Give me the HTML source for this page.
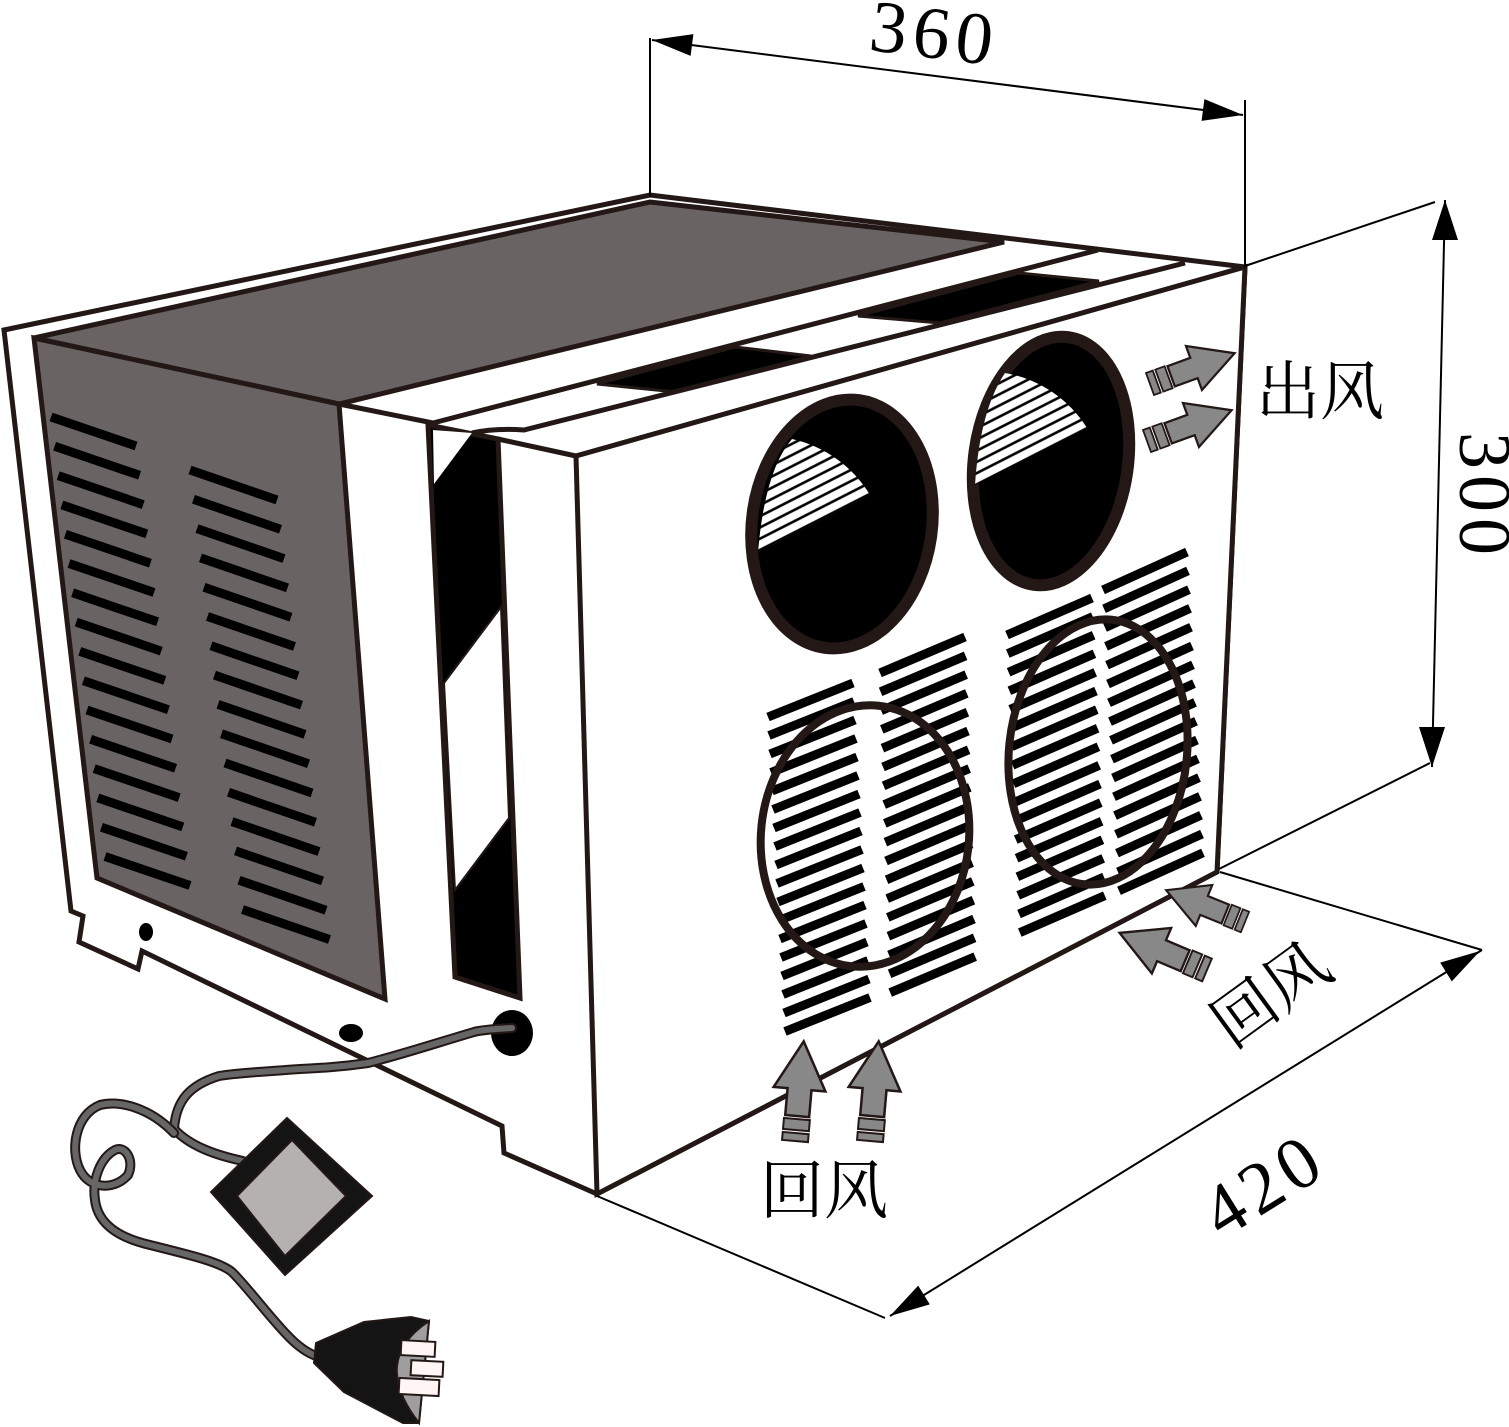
<!DOCTYPE html>
<html><head><meta charset="utf-8"><style>html,body{margin:0;padding:0;background:#fff}svg{display:block}</style></head>
<body>
<svg width="1509" height="1427" viewBox="0 0 1509 1427" xmlns="http://www.w3.org/2000/svg">
<defs>
<pattern id="h" width="10" height="10" patternUnits="userSpaceOnUse" patternTransform="rotate(-27)">
<rect width="10" height="10" fill="#fff"/><line x1="0" y1="5" x2="10" y2="5" stroke="#000" stroke-width="2.6"/></pattern>
<g id="arr">
<polygon points="0,-13 8,-13 8,13 0,13" fill="#888" stroke="#231815" stroke-width="2"/>
<polygon points="11,-13 22,-13 22,13 11,13" fill="#888" stroke="#231815" stroke-width="2"/>
<polygon points="25,-12 52,-12 52,-26 100,0 52,26 52,12 25,12" fill="#888" stroke="#231815" stroke-width="2.5"/>
</g>
<line id="sa" x1="51" y1="417" x2="136" y2="446" stroke="#000" stroke-width="9"/>
<line id="sb" x1="190" y1="470" x2="277" y2="500" stroke="#000" stroke-width="9"/>
<line id="s1" x1="768" y1="717" x2="853" y2="683" stroke="#000" stroke-width="9"/>
<line id="s2" x1="880" y1="673" x2="965" y2="637" stroke="#000" stroke-width="9"/>
<line id="s3" x1="1007" y1="635" x2="1092" y2="598" stroke="#000" stroke-width="9"/>
<line id="s4" x1="1103" y1="590" x2="1187" y2="552" stroke="#000" stroke-width="9"/>
</defs>
<g stroke-linejoin="miter">
<!-- outer frame -->
<polygon points="4,330 650,195 1245,267 1217,872 597,1194 504,1153 502,1126 142,951 138,969 79,942 83,916 71,911" fill="#fff" stroke="#231815" stroke-width="5"/>
<!-- gray top -->
<polygon points="34,338 650,202 1004,242 339,404" fill="#696463" stroke="#231815" stroke-width="5"/>
<!-- gray side -->
<polygon points="34,338 339,404 385,999 97,878" fill="#696463" stroke="#231815" stroke-width="5"/>
<!-- left side slats -->
<g>
<use href="#sa"/><use href="#sa" transform="translate(3.6,29.3)"/><use href="#sa" transform="translate(7.2,58.6)"/><use href="#sa" transform="translate(10.8,87.9)"/><use href="#sa" transform="translate(14.4,117.2)"/><use href="#sa" transform="translate(18,146.5)"/><use href="#sa" transform="translate(21.6,175.8)"/><use href="#sa" transform="translate(25.2,205.1)"/><use href="#sa" transform="translate(28.8,234.4)"/><use href="#sa" transform="translate(32.4,263.7)"/><use href="#sa" transform="translate(36,293)"/><use href="#sa" transform="translate(39.6,322.3)"/><use href="#sa" transform="translate(43.2,351.6)"/><use href="#sa" transform="translate(46.8,380.9)"/><use href="#sa" transform="translate(50.4,410.2)"/><use href="#sa" transform="translate(54,439.5)"/>
<use href="#sb"/><use href="#sb" transform="translate(3.5,29.3)"/><use href="#sb" transform="translate(7,58.6)"/><use href="#sb" transform="translate(10.5,87.9)"/><use href="#sb" transform="translate(14,117.2)"/><use href="#sb" transform="translate(17.5,146.5)"/><use href="#sb" transform="translate(21,175.8)"/><use href="#sb" transform="translate(24.5,205.1)"/><use href="#sb" transform="translate(28,234.4)"/><use href="#sb" transform="translate(31.5,263.7)"/><use href="#sb" transform="translate(35,293)"/><use href="#sb" transform="translate(38.5,322.3)"/><use href="#sb" transform="translate(42,351.6)"/><use href="#sb" transform="translate(45.5,380.9)"/><use href="#sb" transform="translate(49,410.2)"/><use href="#sb" transform="translate(52.5,439.5)"/>
</g>
<!-- top strips -->
<polygon points="597,384 735,347 811,356 676,392" fill="#000" stroke="#231815" stroke-width="3"/>
<polygon points="858,316 1019,273 1099,281 940,323" fill="#000" stroke="#231815" stroke-width="3"/>
<line x1="339" y1="404" x2="433" y2="423" stroke="#231815" stroke-width="5"/>
<line x1="433" y1="423" x2="1098" y2="250" stroke="#231815" stroke-width="5"/>
<path d="M472,433 Q495,428 524,430 L1185,263" fill="none" stroke="#231815" stroke-width="5"/>
<line x1="498" y1="439" x2="576" y2="456" stroke="#231815" stroke-width="5"/>
<line x1="576" y1="456" x2="1245" y2="267" stroke="#231815" stroke-width="5"/>
<!-- black vertical strip -->
<polygon points="428,425 498,439 520,998 455,977" fill="#000" stroke="#231815" stroke-width="5"/>
<polygon points="433,430 472,433 434,484" fill="#fff"/>
<polygon points="501,607 509,818 455,890 444,683" fill="#fff" stroke="#231815" stroke-width="2"/>
<!-- front face -->
<polygon points="576,456 1245,267 1217,872 597,1194" fill="#fff" stroke="#231815" stroke-width="5"/>
<!-- outlet ellipses -->
<ellipse cx="842" cy="524" rx="90" ry="125" transform="rotate(8 842 524)" fill="#000" stroke="#231815" stroke-width="12"/>
<ellipse cx="1051" cy="461" rx="77" ry="125" transform="rotate(8 1051 461)" fill="#000" stroke="#231815" stroke-width="12"/>
<path d="M758,552 L870,495 A122,122 0 0 0 792,439 Q765,470 758,552 Z" fill="url(#h)"/>
<path d="M975,485 L1087,428 A121,121 0 0 0 1005,373 Q980,410 975,485 Z" fill="url(#h)"/>
<!-- grille slats -->
<g>
<use href="#s1"/><use href="#s1" transform="translate(1,18.5)"/><use href="#s1" transform="translate(2,37)"/><use href="#s1" transform="translate(3,55.5)"/><use href="#s1" transform="translate(4,74)"/><use href="#s1" transform="translate(5,92.5)"/><use href="#s1" transform="translate(6,111)"/><use href="#s1" transform="translate(7,129.5)"/><use href="#s1" transform="translate(8,148)"/><use href="#s1" transform="translate(9,166.5)"/><use href="#s1" transform="translate(10,185)"/><use href="#s1" transform="translate(11,203.5)"/><use href="#s1" transform="translate(12,222)"/><use href="#s1" transform="translate(13,240.5)"/><use href="#s1" transform="translate(14,259)"/><use href="#s1" transform="translate(15,277.5)"/><use href="#s1" transform="translate(16,296)"/><use href="#s1" transform="translate(17,314.5)"/>
<use href="#s2"/><use href="#s2" transform="translate(0.6,18.8)"/><use href="#s2" transform="translate(1.2,37.6)"/><use href="#s2" transform="translate(1.8,56.4)"/><use href="#s2" transform="translate(2.4,75.2)"/><use href="#s2" transform="translate(3,94)"/><use href="#s2" transform="translate(3.6,112.8)"/><use href="#s2" transform="translate(4.2,131.6)"/><use href="#s2" transform="translate(4.8,150.4)"/><use href="#s2" transform="translate(5.4,169.2)"/><use href="#s2" transform="translate(6,188)"/><use href="#s2" transform="translate(6.6,206.8)"/><use href="#s2" transform="translate(7.2,225.6)"/><use href="#s2" transform="translate(7.8,244.4)"/><use href="#s2" transform="translate(8.4,263.2)"/><use href="#s2" transform="translate(9,282)"/><use href="#s2" transform="translate(9.6,300.8)"/><use href="#s2" transform="translate(10.2,319.6)"/>
<use href="#s3"/><use href="#s3" transform="translate(0.8,18.6)"/><use href="#s3" transform="translate(1.6,37.2)"/><use href="#s3" transform="translate(2.4,55.8)"/><use href="#s3" transform="translate(3.2,74.4)"/><use href="#s3" transform="translate(4,93)"/><use href="#s3" transform="translate(4.8,111.6)"/><use href="#s3" transform="translate(5.6,130.2)"/><use href="#s3" transform="translate(6.4,148.8)"/><use href="#s3" transform="translate(7.2,167.4)"/><use href="#s3" transform="translate(8,186)"/><use href="#s3" transform="translate(8.8,204.6)"/><use href="#s3" transform="translate(9.6,223.2)"/><use href="#s3" transform="translate(10.4,241.8)"/><use href="#s3" transform="translate(11.2,260.4)"/><use href="#s3" transform="translate(12,279)"/><use href="#s3" transform="translate(12.8,297.6)"/>
<use href="#s4"/><use href="#s4" transform="translate(1,18.8)"/><use href="#s4" transform="translate(2,37.6)"/><use href="#s4" transform="translate(3,56.4)"/><use href="#s4" transform="translate(4,75.2)"/><use href="#s4" transform="translate(5,94)"/><use href="#s4" transform="translate(6,112.8)"/><use href="#s4" transform="translate(7,131.6)"/><use href="#s4" transform="translate(8,150.4)"/><use href="#s4" transform="translate(9,169.2)"/><use href="#s4" transform="translate(10,188)"/><use href="#s4" transform="translate(11,206.8)"/><use href="#s4" transform="translate(12,225.6)"/><use href="#s4" transform="translate(13,244.4)"/><use href="#s4" transform="translate(14,263.2)"/><use href="#s4" transform="translate(15,282)"/><use href="#s4" transform="translate(16,300.8)"/>
</g>
<ellipse cx="865" cy="836" rx="104" ry="131" transform="rotate(6 865 836)" fill="none" stroke="#231815" stroke-width="8"/>
<ellipse cx="1098" cy="752" rx="89" ry="133" transform="rotate(6 1098 752)" fill="none" stroke="#231815" stroke-width="8"/>
<!-- flow arrows -->
<use href="#arr" transform="translate(1150,384) rotate(-20) scale(0.9)"/>
<use href="#arr" transform="translate(1147,441) rotate(-20) scale(0.9)"/>
<use href="#arr" transform="translate(1245,922) rotate(202) scale(0.85)"/>
<use href="#arr" transform="translate(1207,970) rotate(203) scale(0.95)"/>
<use href="#arr" transform="translate(795,1141) rotate(-85)"/>
<use href="#arr" transform="translate(870,1141) rotate(-85)"/>
<!-- holes -->
<ellipse cx="146" cy="932" rx="7" ry="9" fill="#000"/>
<ellipse cx="351" cy="1033" rx="12" ry="9" fill="#000"/>
<ellipse cx="512" cy="1033" rx="21" ry="23" fill="#000"/>
<!-- cord -->
<g fill="none" stroke-linecap="round" stroke-linejoin="round">
<path id="c1" d="M512,1028 C495,1029 480,1030 474,1032 C440,1042 400,1055 368,1063 C340,1067 320,1068 300,1069 C260,1072 235,1073 219,1076 C190,1085 176,1100 174,1129 C190,1146 215,1155 243,1161" stroke="#231815" stroke-width="10"/>
<path d="M512,1028 C495,1029 480,1030 474,1032 C440,1042 400,1055 368,1063 C340,1067 320,1068 300,1069 C260,1072 235,1073 219,1076 C190,1085 176,1100 174,1129 C190,1146 215,1155 243,1161" stroke="#666" stroke-width="6"/>
<path d="M174,1133 C150,1108 120,1100 100,1105 C75,1115 70,1150 80,1170 C90,1190 115,1190 128,1175 C135,1160 125,1145 115,1150 C100,1158 92,1180 95,1200 C98,1225 120,1238 150,1245 C190,1255 220,1262 232,1272 C250,1290 270,1318 290,1338 C300,1348 308,1353 316,1356" stroke="#231815" stroke-width="10"/>
<path d="M174,1133 C150,1108 120,1100 100,1105 C75,1115 70,1150 80,1170 C90,1190 115,1190 128,1175 C135,1160 125,1145 115,1150 C100,1158 92,1180 95,1200 C98,1225 120,1238 150,1245 C190,1255 220,1262 232,1272 C250,1290 270,1318 290,1338 C300,1348 308,1353 316,1356" stroke="#666" stroke-width="6"/>
</g>
<!-- switch box -->
<polygon points="287,1118 372,1196 285,1275 211,1192" fill="#141414" stroke="#231815" stroke-width="2"/>
<polygon points="292,1140 346,1196 285,1256 237,1196" fill="#b6b1b1" stroke="#231815" stroke-width="2"/>
<!-- plug -->
<polygon points="316,1343 364,1322 411,1317 429,1321 419,1423 403,1423 344,1392 314,1363" fill="#141414" stroke="#231815" stroke-width="2"/>
<path d="M429,1321 Q370,1360 419,1423 Z" fill="#9e9e9e" stroke="#231815" stroke-width="2"/>
<rect x="401" y="1341" width="34" height="15" fill="#fff5f5" stroke="#231815" stroke-width="2" transform="rotate(3 418 1349)"/>
<rect x="411" y="1361" width="32" height="15" fill="#fff5f5" stroke="#231815" stroke-width="2" transform="rotate(3 427 1368)"/>
<rect x="399" y="1379" width="40" height="16" fill="#fff5f5" stroke="#231815" stroke-width="2" transform="rotate(3 419 1387)"/>
</g>
<!-- dimensions -->
<g stroke="#000" stroke-width="2" fill="none">
<line x1="650" y1="38" x2="650" y2="197"/>
<line x1="1245" y1="100" x2="1245" y2="267"/>
<line x1="652" y1="40" x2="1243" y2="115"/>
<line x1="1245" y1="266" x2="1435" y2="202"/>
<line x1="1219" y1="869" x2="1430" y2="763"/>
<line x1="1445" y1="200" x2="1432" y2="767"/>
<line x1="597" y1="1196" x2="885" y2="1318"/>
<line x1="1220" y1="872" x2="1482" y2="950"/>
<line x1="890" y1="1316" x2="1482" y2="950"/>
</g>
<g fill="#000">
<polygon points="652,40 693.4,34.1 690.6,55.9"/>
<polygon points="1243,115 1204.4,99.1 1201.6,120.9"/>
<polygon points="1445,200 1432,240 1458,240"/>
<polygon points="1432,767 1419,727 1445,727"/>
<polygon points="890,1316 929.8,1304.4 918.2,1285.6"/>
<polygon points="1480,951 1451.8,981.4 1440.2,962.6"/>
</g>
<g font-family="Liberation Serif, serif" fill="#000">
<text x="870" y="58" font-size="74" letter-spacing="6" transform="rotate(7 935 35)">360</text>
<text x="0" y="0" font-size="74" letter-spacing="6" transform="translate(1460,432) rotate(90)">300</text>
<text x="0" y="0" font-size="74" letter-spacing="6" transform="translate(1222,1240) rotate(-32)">420</text>
</g>
<g font-family="Liberation Serif, 'Noto Serif CJK SC', serif" fill="#000" font-size="64">
<text x="1256" y="414">出风</text>
<text x="760" y="1213">回风</text>
<text x="0" y="0" transform="translate(1232,1050) rotate(-36)">回风</text>
</g>
</svg>
</body></html>
